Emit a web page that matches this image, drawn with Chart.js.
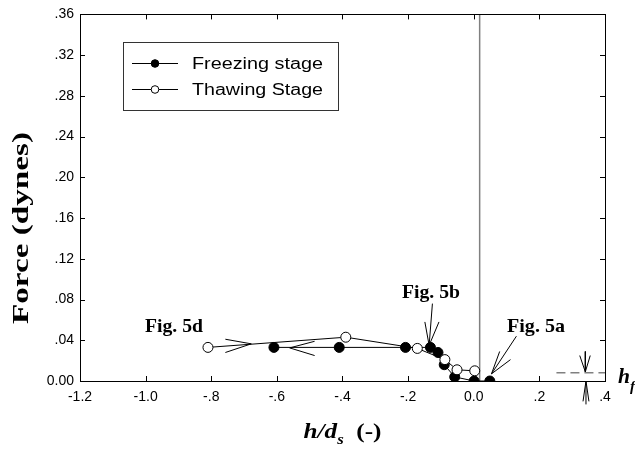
<!DOCTYPE html>
<html>
<head>
<meta charset="utf-8">
<script src="https://cdn.jsdelivr.net/npm/chart.js@4.4.0/dist/chart.umd.min.js"></script>
<style>
  body { margin: 0; background: #fff; }
  #wrap { width: 635px; height: 450px; }
</style>
</head>
<body>
<div id="wrap"><canvas id="chart"></canvas></div>
<script>
// freezing stage (filled circles), in the order the line joins them
const freezeX = [0.049, 0.001, -0.058, -0.090, -0.109, -0.132, -0.208, -0.410, -0.609];
const freezeY = [0.000, 0.000, 0.004, 0.016, 0.028, 0.033, 0.033, 0.033, 0.033];
// thawing stage (open circles)
const thawX = [-0.810, -0.390, -0.172, -0.088, -0.051, 0.003];
const thawY = [0.033, 0.043, 0.032, 0.021, 0.011, 0.010];

const xTicks = [-1.2, -1.0, -0.8, -0.6, -0.4, -0.2, 0.0, 0.2, 0.4];
const xTickLabels = ["-1.2", "-1.0", "-.8", "-.6", "-.4", "-.2", "0.0", ".2", ".4"];
const yTicks = [0, 0.04, 0.08, 0.12, 0.16, 0.20, 0.24, 0.28, 0.32, 0.36];
const yTickLabels = ["0.00", ".04", ".08", ".12", ".16", ".20", ".24", ".28", ".32", ".36"];

// reference lines
const zeroLineX = 0.018;
const hfLevel = 0.008;
const hfStartX = 0.252;

// annotation arrows (data units)
const arrowFreezeX = [-0.485, -0.561, -0.485];
const arrowFreezeY = [0.039, 0.0325, 0.025];
const arrowThawX = [-0.757, -0.678, -0.757];
const arrowThawY = [0.041, 0.0365, 0.028];
const fig5bShaftX = [-0.126, -0.136];
const fig5bShaftY = [0.076, 0.035];
const fig5bHeadX = [-0.149, -0.136, -0.106];
const fig5bHeadY = [0.058, 0.035, 0.058];
const fig5aShaftX = [0.130, 0.054];
const fig5aShaftY = [0.044, 0.007];
const fig5aHeadX = [0.079, 0.054, 0.112];
const fig5aHeadY = [0.029, 0.007, 0.021];
const hfDownX = [0.340, 0.340];
const hfDownY = [0.029, 0.009];
const hfDownHeadX = [0.323, 0.340, 0.355];
const hfDownHeadY = [0.025, 0.009, 0.025];
const hfUpX = [0.342, 0.342];
const hfUpY = [-0.023, 0.0];
const hfUpHeadX = [0.333, 0.342, 0.351];
const hfUpHeadY = [-0.020, 0.0, -0.020];

const pts = (xs, ys) => xs.map((x, i) => ({ x: x, y: ys[i] }));

function annot(xs, ys, extra) {
  return Object.assign({
    data: pts(xs, ys),
    showLine: true,
    pointRadius: 0,
    borderColor: '#000',
    borderWidth: 1,
    clip: false,
    order: 5
  }, extra || {});
}

const SERIF = '"Liberation Serif", "Times New Roman", serif';
const SANS = 'Arial, "Liberation Sans", sans-serif';

// draw text squeezed/stretched to a given width
function fitText(ctx, str, x, y, font, width, align) {
  ctx.save();
  ctx.font = font;
  const w = ctx.measureText(str).width;
  const sx = width ? width / w : 1;
  ctx.translate(x, y);
  ctx.scale(sx, 1);
  ctx.textAlign = align || 'left';
  ctx.fillText(str, 0, 0);
  ctx.restore();
}

const decor = {
  id: 'decor',
  afterDraw(chart) {
    const ctx = chart.ctx;
    const a = chart.chartArea;
    const xs = chart.scales.x, ys = chart.scales.y;
    ctx.save();
    ctx.strokeStyle = '#000';
    ctx.lineWidth = 1;
    ctx.strokeRect(Math.round(a.left) + 0.5, Math.round(a.top) + 0.5,
      Math.round(a.right - a.left), Math.round(a.bottom - a.top));
    // inward tick marks on all four sides
    ctx.beginPath();
    xTicks.forEach(v => {
      const p = Math.round(xs.getPixelForValue(v)) + 0.5;
      ctx.moveTo(p, a.bottom); ctx.lineTo(p, a.bottom - 5);
      ctx.moveTo(p, a.top); ctx.lineTo(p, a.top + 5);
    });
    yTicks.forEach(v => {
      const p = Math.round(ys.getPixelForValue(v)) + 0.5;
      ctx.moveTo(a.left, p); ctx.lineTo(a.left + 5, p);
      ctx.moveTo(a.right, p); ctx.lineTo(a.right - 5, p);
    });
    ctx.stroke();

    ctx.fillStyle = '#000';
    ctx.textBaseline = 'alphabetic';
    // figure labels
    const lf = 'bold 19px ' + SERIF;
    fitText(ctx, 'Fig. 5d', 145, 332, lf, 58);
    fitText(ctx, 'Fig. 5b', 402, 298, lf, 58);
    fitText(ctx, 'Fig. 5a', 507, 332, lf, 58);
    // h_f label
    fitText(ctx, 'h', 618, 383, 'bold italic 21px ' + SERIF, 12);
    fitText(ctx, 'f', 630, 391, 'bold italic 14px ' + SERIF, 5);

    // y title
    ctx.save();
    ctx.translate(28, 228);
    ctx.rotate(-Math.PI / 2);
    fitText(ctx, 'Force (dynes)', 0, 0, 'bold 24px ' + SERIF, 192, 'center');
    ctx.restore();

    // x title: h/d_s  (-)
    ctx.save();
    const parts = [
      ['h/d', 'bold italic 21px ' + SERIF, 0],
      ['s', 'bold italic 14px ' + SERIF, 6],
      ['  (-)', 'bold 21px ' + SERIF, 0]
    ];
    let total = 0;
    parts.forEach(p => { ctx.font = p[1]; total += ctx.measureText(p[0]).width; });
    const sx = 1.2;
    let x0 = (a.left + a.right) / 2 - total * sx / 2;
    ctx.translate(x0, 0);
    ctx.scale(sx, 1);
    let cx = 0;
    parts.forEach(p => {
      ctx.font = p[1];
      ctx.fillText(p[0], cx, 438 + p[2]);
      cx += ctx.measureText(p[0]).width;
    });
    ctx.restore();

    // legend
    const bx = 123, by = 42, bw = 215, bh = 68;
    ctx.strokeStyle = '#333';
    ctx.strokeRect(bx + 0.5, by + 0.5, bw, bh);
    const rows = [['Freezing stage', '#000', 63], ['Thawing Stage', '#fff', 89]];
    rows.forEach(r => {
      ctx.strokeStyle = '#000';
      ctx.beginPath();
      ctx.moveTo(132, r[2] + 0.5); ctx.lineTo(178, r[2] + 0.5);
      ctx.stroke();
      ctx.beginPath();
      ctx.arc(155, r[2] + 0.5, 3.8, 0, Math.PI * 2);
      ctx.fillStyle = r[1];
      ctx.fill();
      ctx.stroke();
      ctx.fillStyle = '#000';
      fitText(ctx, r[0], 192, r[2] + 5.5, '16px ' + SANS, 131);
    });
    ctx.restore();
  }
};

new Chart(document.getElementById('chart'), {
  type: 'scatter',
  data: {
    datasets: [
      {
        label: 'Thawing Stage',
        data: pts(thawX, thawY),
        showLine: true,
        borderColor: '#000',
        borderWidth: 1,
        pointRadius: 5,
        pointBackgroundColor: '#fff',
        pointBorderColor: '#000',
        pointBorderWidth: 1,
        order: 1
      },
      {
        label: 'Freezing stage',
        data: pts(freezeX, freezeY),
        showLine: true,
        borderColor: '#000',
        borderWidth: 1,
        pointRadius: 5,
        pointBackgroundColor: '#000',
        pointBorderColor: '#000',
        pointBorderWidth: 1,
        order: 2
      },
      annot([zeroLineX, zeroLineX], [0, 0.36], { borderColor: '#808080', borderWidth: 1.5, order: 6 }),
      annot([hfStartX, 0.4], [hfLevel, hfLevel], { borderColor: '#808080', borderWidth: 1.5, borderDash: [9, 5], order: 6 }),
      annot(arrowFreezeX, arrowFreezeY),
      annot(arrowThawX, arrowThawY),
      annot(fig5bShaftX, fig5bShaftY),
      annot(fig5bHeadX, fig5bHeadY),
      annot(fig5aShaftX, fig5aShaftY),
      annot(fig5aHeadX, fig5aHeadY),
      annot(hfDownX, hfDownY),
      annot(hfDownHeadX, hfDownHeadY),
      annot(hfUpX, hfUpY),
      annot(hfUpHeadX, hfUpHeadY)
    ]
  },
  options: {
    responsive: true,
    maintainAspectRatio: false,
    animation: false,
    layout: { padding: { left: 0, top: 12, right: 30, bottom: 0 } },
    plugins: { legend: { display: false }, tooltip: { enabled: false } },
    scales: {
      x: {
        type: 'linear',
        min: -1.2,
        max: 0.4,
        afterBuildTicks: s => { s.ticks = xTicks.map(v => ({ value: v })); },
        afterFit: s => { s.height = 69; },
        grid: { display: false, drawTicks: false },
        border: { display: false },
        ticks: {
          padding: 8,
          color: '#000',
          font: { family: SANS, size: 14 },
          maxRotation: 0,
          autoSkip: false,
          callback: (v, i) => xTickLabels[i]
        }
      },
      y: {
        type: 'linear',
        min: 0,
        max: 0.36,
        afterBuildTicks: s => { s.ticks = yTicks.map(v => ({ value: v })); },
        afterFit: s => { s.width = 80; },
        grid: { display: false, drawTicks: false },
        border: { display: false },
        ticks: {
          padding: 6,
          color: '#000',
          font: { family: SANS, size: 14 },
          autoSkip: false,
          callback: (v, i) => yTickLabels[i]
        }
      }
    }
  },
  plugins: [decor]
});
</script>
</body>
</html>
